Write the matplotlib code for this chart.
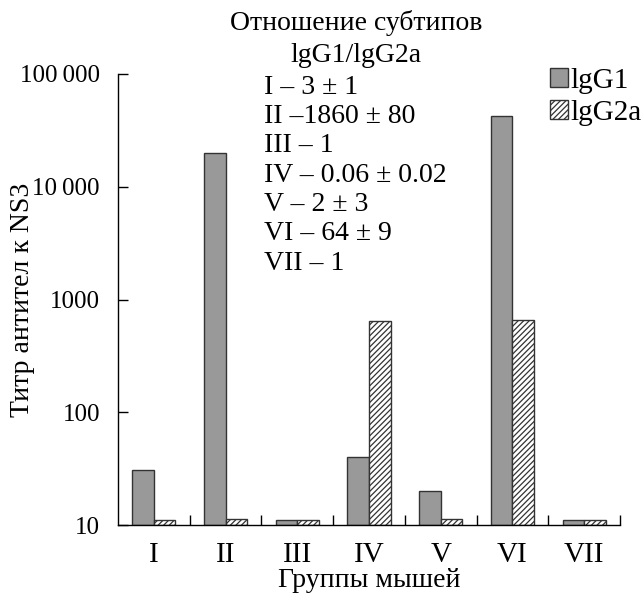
import numpy as np
import matplotlib
matplotlib.use("Agg")
from matplotlib import pyplot as plt
from matplotlib.patches import Patch

# Groups of mice and antibody titres
groups = ["I", "II", "III", "IV", "V", "VI", "VII"]
igg1 = [31, 20000, 11, 40, 20, 42000, 11]
igg2a = [11, 11.2, 11, 640, 11.2, 660, 11]

# IgG1/IgG2a subtype ratio printed inside the plot
ratios = ["I – 3 ± 1", "II –1860 ± 80", "III – 1", "IV – 0.06 ± 0.02",
          "V – 2 ± 3", "VI – 64 ± 9", "VII – 1"]

ytick_vals = [10, 100, 1000, 10000, 100000]
ytick_labels = ["10", "100", "1000", "10\u2009000", "100\u2009000"]

plt.rcParams["font.family"] = ["Liberation Serif", "DejaVu Serif"]
plt.rcParams["hatch.linewidth"] = 0.9

W, H = 642, 597
fig = plt.figure(figsize=(W / 100, H / 100), dpi=100)
ax = fig.add_axes([118 / W, 72 / H, 502 / W, 451 / H])

x = np.arange(len(groups))
bw = 0.3
floor = 10
ax.bar(x - bw / 2, np.array(igg1) - floor, bw, bottom=floor,
       color="#999999", edgecolor="#333333", linewidth=1.0)
ax.bar(x + bw / 2, np.array(igg2a) - floor, bw, bottom=floor,
       color="white", edgecolor="#333333", linewidth=1.0, hatch="//////")

ax.set_yscale("log")
ax.set_ylim(10, 100000)
ax.set_xlim(-0.5, len(groups) - 0.5)

ax.set_yticks(ytick_vals, ytick_labels)
ax.yaxis.set_minor_locator(matplotlib.ticker.NullLocator())
ax.tick_params(axis="y", which="major", direction="in", length=7, width=1,
               labelsize=18, pad=13)

# boundaries between groups carry the ticks, names sit in the middle
ax.set_xticks(np.arange(len(groups)) + 0.5)
ax.set_xticks(x, groups, minor=True)
ax.tick_params(axis="x", which="major", direction="in", length=7, width=1,
               labelbottom=False)
ax.tick_params(axis="x", which="minor", length=0, labelsize=21, pad=12)

for s in ["top", "right"]:
    ax.spines[s].set_visible(False)
for s in ["left", "bottom"]:
    ax.spines[s].set_linewidth(1.0)

ax.set_xlabel("Группы мышей", fontsize=20, labelpad=0)
ax.set_ylabel("Титр антител к NS3", fontsize=20)
ax.yaxis.set_label_coords(-0.165, 0.5)

fig.text(356 / W, 1 - 39 / H, "Отношение субтипов\nlgG1/lgG2a", ha="center",
         va="center", fontsize=20, linespacing=1.4)

for i, r in enumerate(ratios):
    fig.text(264 / W, 1 - (87 + 29.4 * i) / H, r, ha="left", va="center",
             fontsize=20)

handles = [Patch(facecolor="#999999", edgecolor="#333333", label="lgG1"),
           Patch(facecolor="white", edgecolor="#333333", hatch="//////",
                 label="lgG2a")]
fig.legend(handles=handles, loc="upper left", bbox_to_anchor=(550 / W, 1 - 68 / H),
           frameon=False, fontsize=21, handlelength=0.6, handleheight=0.6,
           handletextpad=0.1, borderpad=0, borderaxespad=0, labelspacing=0.2)

fig.savefig("out.png", dpi=100)
